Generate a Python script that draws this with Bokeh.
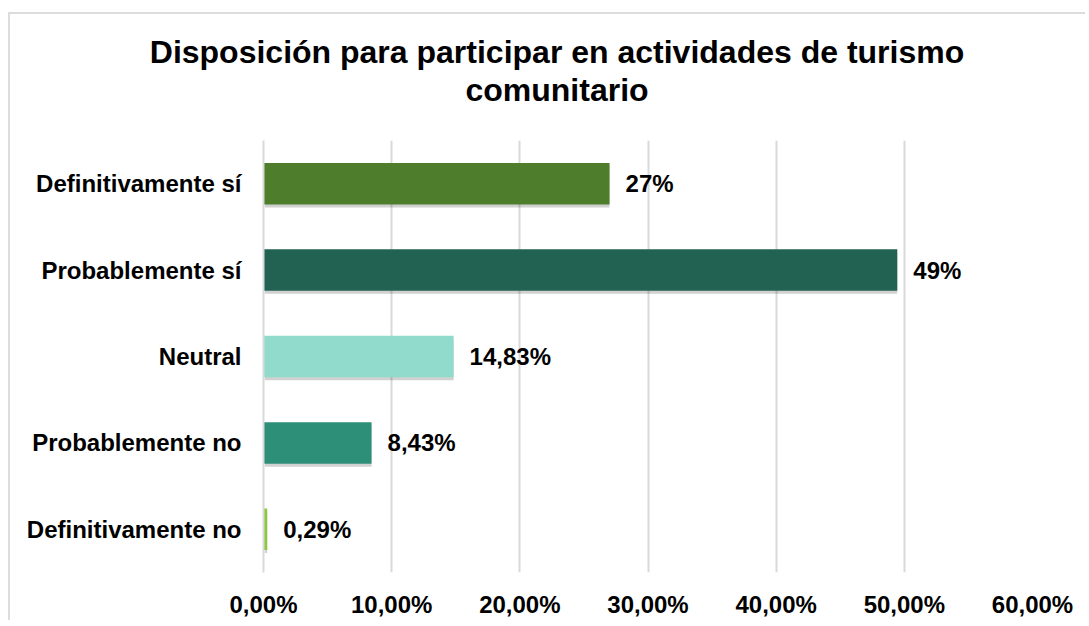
from bokeh.plotting import figure
from bokeh.models import ColumnDataSource, FactorRange, FixedTicker, Div
from bokeh.layouts import column
from bokeh.core.properties import value
from bokeh.transform import dodge
from bokeh.embed import file_html
from bokeh.resources import INLINE

categories = ["Definitivamente sí", "Probablemente sí", "Neutral", "Probablemente no", "Definitivamente no"]
values = [0.2700, 0.4945, 0.1483, 0.0843, 0.0029]
value_labels = ["27%", "49%", "14,83%", "8,43%", "0,29%"]
colors = ["#4E7D2B", "#226252", "#90DBCB", "#2E8F78", "#8DC63F"]
tick_values = [0.0, 0.1, 0.2, 0.3, 0.4, 0.5, 0.6]
tick_labels = ["0,00%", "10,00%", "20,00%", "30,00%", "40,00%", "50,00%", "60,00%"]
title_lines = ["Disposición para participar en actividades de turismo", "comunitario"]

FONT = "Liberation Sans"

src = ColumnDataSource(dict(cat=categories, val=values, lab=value_labels, col=colors))

title_div = Div(
    text=('<div style="font-family:\'Liberation Sans\',Arial,sans-serif;font-size:32px;'
          'font-weight:bold;color:#000;text-align:center;line-height:38px;'
          'width:1075px;box-sizing:border-box;display:block;'
          'padding-top:19px;padding-left:19px;">'
          + "<br>".join(title_lines) + "</div>"),
    width=1075, height=116, margin=(0, 0, 0, 0),
)

p = figure(
    width=1075, height=490,
    y_range=FactorRange(*reversed(categories)),
    x_range=(0, 0.6),
    output_backend="svg", toolbar_location=None,
    min_border_left=253, min_border_right=53, min_border_top=10, min_border_bottom=47,
)
p.margin = (0, 0, 0, 0)

# shadow
p.hbar(y=dodge("cat", -0.035, range=p.y_range), left=0.001, right="val", height=0.48,
       source=src, fill_color="#000000", fill_alpha=0.18, line_color=None)
p.hbar(y="cat", left=0, right="val", height=0.48, source=src,
       fill_color="col", line_color=None)

p.text(x="val", y="cat", text="lab", source=src, x_offset=16,
       text_font=value(FONT), text_font_size="24px", text_font_style="bold",
       text_baseline="middle", text_align="left", text_color="#000000")

p.xaxis.ticker = FixedTicker(ticks=tick_values)
p.xaxis.major_label_overrides = {v: l for v, l in zip(tick_values, tick_labels)}
for ax in (p.xaxis, p.yaxis):
    ax.major_label_text_font = FONT
    ax.major_label_text_font_size = "24px"
    ax.major_label_text_font_style = "bold"
    ax.major_label_text_color = "#000000"
    ax.major_tick_line_color = None
    ax.minor_tick_line_color = None
    ax.major_tick_out = 0
    ax.major_tick_in = 0
    ax.minor_tick_out = 0
p.xaxis.axis_line_color = None
p.xaxis.major_label_standoff = 18
p.yaxis.axis_line_color = "#d9d9d9"
p.yaxis.axis_line_width = 2
p.yaxis.major_label_standoff = 22

p.xgrid.grid_line_color = "#d9d9d9"
p.xgrid.grid_line_width = 2
p.ygrid.grid_line_color = None
p.outline_line_color = None
p.y_range.range_padding = 0

layout = column(title_div, p, spacing=0)
layout.margin = (12, 0, 0, 8)
layout.styles = {"border-left": "2px solid #dcdcdc", "border-top": "2px solid #dcdcdc"}

open("out.html", "w").write(file_html(layout, INLINE))
